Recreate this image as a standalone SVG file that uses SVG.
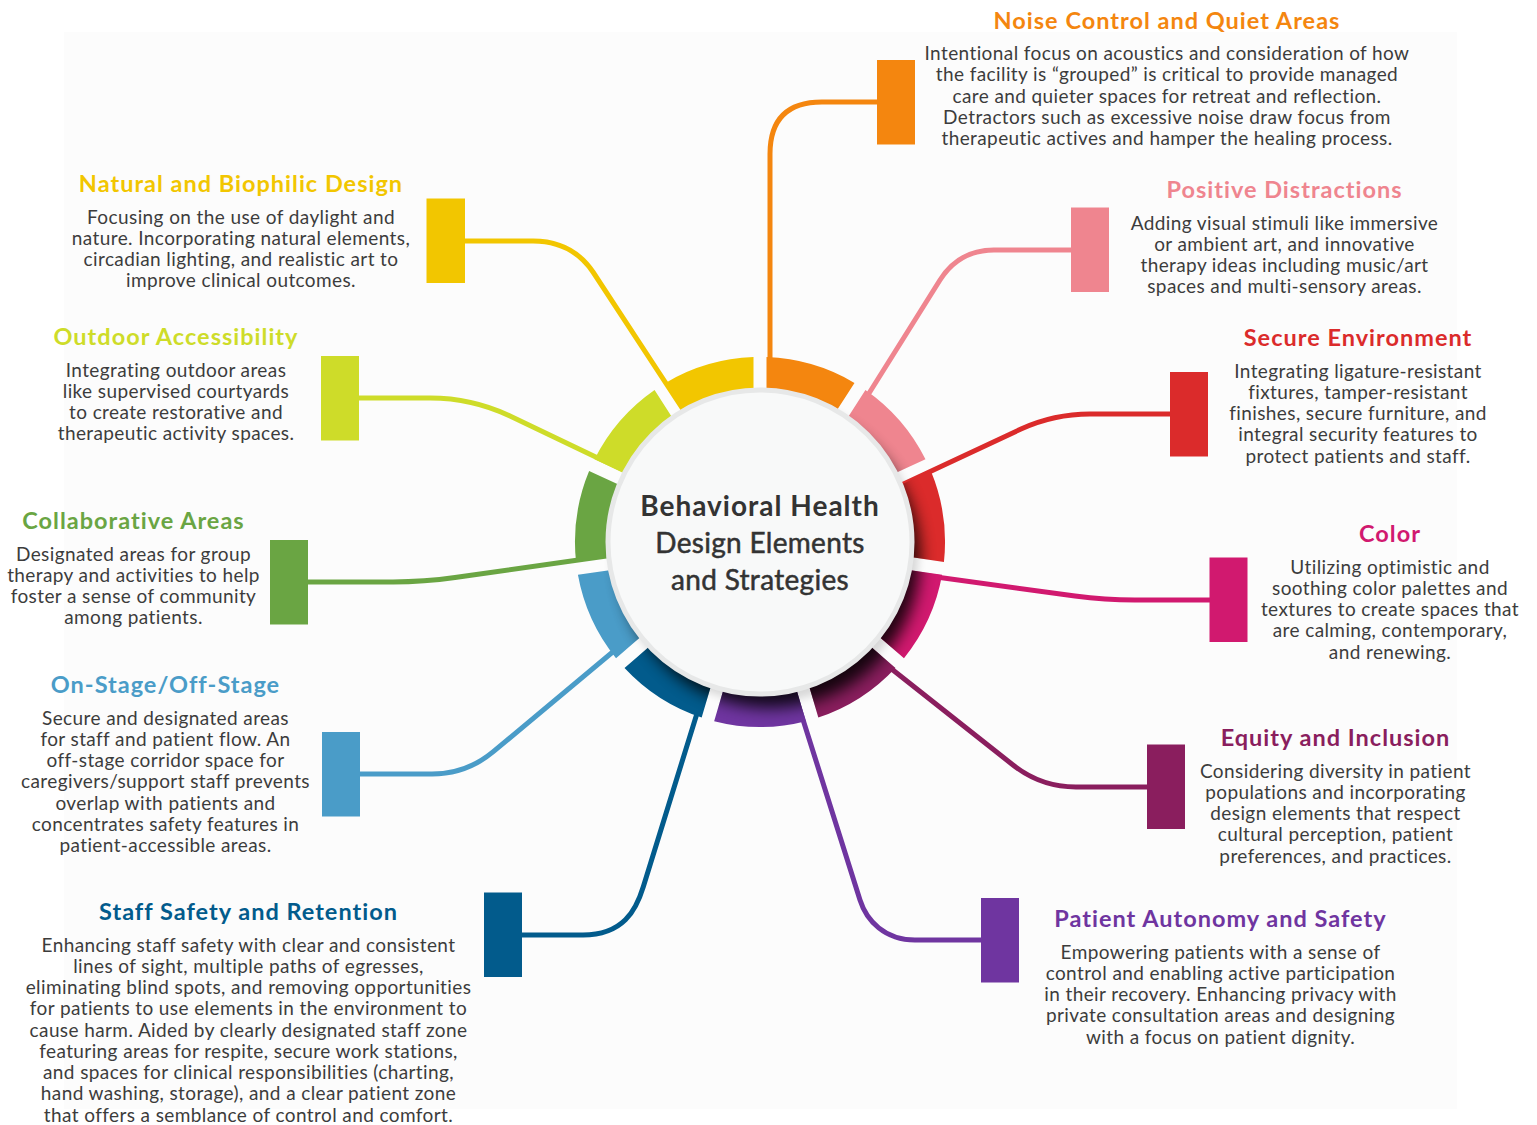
<svg xmlns="http://www.w3.org/2000/svg" xmlns:xlink="http://www.w3.org/1999/xlink" width="1537" height="1125" viewBox="0 0 1537 1125">
<defs>
<style>
.t{font-family:Lato,'Liberation Sans',sans-serif;font-weight:700;font-size:23.5px;letter-spacing:1px;text-anchor:middle}
.b{font-family:Lato,'Liberation Sans',sans-serif;font-size:19px;letter-spacing:0.4px;fill:#3c3c3c;text-anchor:middle}
.c{fill:none;stroke-width:5}
.cen{font-family:Lato,'Liberation Sans',sans-serif;font-size:28px;fill:#333333;text-anchor:middle}
</style>
<path id="seg" d="M766.50,357.11 A185,185 0 0 1 854.49,382.95 L834.47,414.10 A148,148 0 0 0 766.50,394.14 Z"/>
<clipPath id="ringClip">
<use href="#seg" xlink:href="#seg" transform="rotate(0 760 542)"/>
<use href="#seg" xlink:href="#seg" transform="rotate(32.7273 760 542)"/>
<use href="#seg" xlink:href="#seg" transform="rotate(65.4545 760 542)"/>
<use href="#seg" xlink:href="#seg" transform="rotate(98.1818 760 542)"/>
<use href="#seg" xlink:href="#seg" transform="rotate(130.9091 760 542)"/>
<use href="#seg" xlink:href="#seg" transform="rotate(163.6364 760 542)"/>
<use href="#seg" xlink:href="#seg" transform="rotate(196.3636 760 542)"/>
<use href="#seg" xlink:href="#seg" transform="rotate(229.0909 760 542)"/>
<use href="#seg" xlink:href="#seg" transform="rotate(261.8182 760 542)"/>
<use href="#seg" xlink:href="#seg" transform="rotate(294.5455 760 542)"/>
<use href="#seg" xlink:href="#seg" transform="rotate(327.2727 760 542)"/>
</clipPath>
<filter id="blur" x="-30%" y="-30%" width="160%" height="160%"><feGaussianBlur stdDeviation="8"/></filter>
<filter id="blur2" x="-30%" y="-30%" width="160%" height="160%"><feGaussianBlur stdDeviation="4"/></filter>
</defs>

<rect x="0" y="0" width="1537" height="1125" fill="#ffffff"/>
<rect x="64" y="32" width="1393" height="1077" fill="#fcfcfc"/>

<circle cx="765" cy="549" r="154" fill="#000" opacity="0.14" filter="url(#blur2)"/>

<g id="connectors">
<path class="c" stroke="#f4860f" d="M877,102 H822 Q770,102 770,154 V400"/>
<path class="c" stroke="#ef858f" d="M1071,250 H994 Q959,250 940,280 L846,430"/>
<path class="c" stroke="#db2b2b" d="M1170,414 H1090 Q1054,414 1021,429 L880,495"/>
<path class="c" stroke="#d1196f" d="M1210,600 H1135 Q1105,600 1075,596 L900,572"/>
<path class="c" stroke="#8a1e5e" d="M1147,787 H1076 Q1041,787 1013,765 L860,644"/>
<path class="c" stroke="#6f35a0" d="M981,940 H915 C885,940 866.6,921 860,900 L793,688"/>
<path class="c" stroke="#025b8c" d="M522,935 H583 C623,935 636,910.6 643.3,886.7 L712,665"/>
<path class="c" stroke="#4a9cc8" d="M360,774 H432 Q466.5,774 493.3,751.7 L645,625"/>
<path class="c" stroke="#6aa543" d="M308,582 H393 Q424,582 455,577.6 L610,555.5"/>
<path class="c" stroke="#cedc29" d="M359,398 H430 Q472,398 510,416 L625,471"/>
<path class="c" stroke="#f2c600" d="M465,241 H533 Q572,241 593,272 L690,420"/>
</g>

<g id="node-noise">
<use href="#seg" xlink:href="#seg" transform="rotate(0 760 542)" fill="#f4860f"/>
<rect x="877" y="60" width="38" height="84.5" fill="#f4860f"/>
<text class="t" x="1167" y="28.5" fill="#f4860f">Noise Control and Quiet Areas</text>
<text class="b" x="1167" y="60"><tspan x="1167">Intentional focus on acoustics and consideration of how</tspan><tspan x="1167" dy="21.25">the facility is “grouped” is critical to provide managed</tspan><tspan x="1167" dy="21.25">care and quieter spaces for retreat and reflection.</tspan><tspan x="1167" dy="21.25">Detractors such as excessive noise draw focus from</tspan><tspan x="1167" dy="21.25">therapeutic actives and hamper the healing process.</tspan></text>
</g>

<g id="node-positive">
<use href="#seg" xlink:href="#seg" transform="rotate(32.7273 760 542)" fill="#ef858f"/>
<rect x="1071" y="207.5" width="38" height="84.5" fill="#ef858f"/>
<text class="t" x="1284.5" y="198" fill="#ef858f">Positive Distractions</text>
<text class="b" x="1284.5" y="229.5"><tspan x="1284.5">Adding visual stimuli like immersive</tspan><tspan x="1284.5" dy="21.25">or ambient art, and innovative</tspan><tspan x="1284.5" dy="21.25">therapy ideas including music/art</tspan><tspan x="1284.5" dy="21.25">spaces and multi-sensory areas.</tspan></text>
</g>

<g id="node-secure">
<use href="#seg" xlink:href="#seg" transform="rotate(65.4545 760 542)" fill="#db2b2b"/>
<rect x="1170" y="372" width="38" height="84.5" fill="#db2b2b"/>
<text class="t" x="1358" y="346" fill="#db2b2b">Secure Environment</text>
<text class="b" x="1358" y="377.5"><tspan x="1358">Integrating ligature-resistant</tspan><tspan x="1358" dy="21.25">fixtures, tamper-resistant</tspan><tspan x="1358" dy="21.25">finishes, secure furniture, and</tspan><tspan x="1358" dy="21.25">integral security features to</tspan><tspan x="1358" dy="21.25">protect patients and staff.</tspan></text>
</g>

<g id="node-color">
<use href="#seg" xlink:href="#seg" transform="rotate(98.1818 760 542)" fill="#d1196f"/>
<rect x="1209.5" y="557.5" width="38" height="84.5" fill="#d1196f"/>
<text class="t" x="1390" y="542" fill="#d1196f">Color</text>
<text class="b" x="1390" y="573.5"><tspan x="1390">Utilizing optimistic and</tspan><tspan x="1390" dy="21.25">soothing color palettes and</tspan><tspan x="1390" dy="21.25">textures to create spaces that</tspan><tspan x="1390" dy="21.25">are calming, contemporary,</tspan><tspan x="1390" dy="21.25">and renewing.</tspan></text>
</g>

<g id="node-equity">
<use href="#seg" xlink:href="#seg" transform="rotate(130.9091 760 542)" fill="#8a1e5e"/>
<rect x="1147" y="744.5" width="38" height="84.5" fill="#8a1e5e"/>
<text class="t" x="1335.5" y="746" fill="#8a1e5e">Equity and Inclusion</text>
<text class="b" x="1335.5" y="777.5"><tspan x="1335.5">Considering diversity in patient</tspan><tspan x="1335.5" dy="21.25">populations and incorporating</tspan><tspan x="1335.5" dy="21.25">design elements that respect</tspan><tspan x="1335.5" dy="21.25">cultural perception, patient</tspan><tspan x="1335.5" dy="21.25">preferences, and practices.</tspan></text>
</g>

<g id="node-autonomy">
<use href="#seg" xlink:href="#seg" transform="rotate(163.6364 760 542)" fill="#6f35a0"/>
<rect x="981" y="898" width="38" height="84.5" fill="#6f35a0"/>
<text class="t" x="1220.5" y="927" fill="#6f35a0">Patient Autonomy and Safety</text>
<text class="b" x="1220.5" y="958.5"><tspan x="1220.5">Empowering patients with a sense of</tspan><tspan x="1220.5" dy="21.25">control and enabling active participation</tspan><tspan x="1220.5" dy="21.25">in their recovery. Enhancing privacy with</tspan><tspan x="1220.5" dy="21.25">private consultation areas and designing</tspan><tspan x="1220.5" dy="21.25">with a focus on patient dignity.</tspan></text>
</g>

<g id="node-staff">
<use href="#seg" xlink:href="#seg" transform="rotate(196.3636 760 542)" fill="#025b8c"/>
<rect x="484" y="892.5" width="38" height="84.5" fill="#025b8c"/>
<text class="t" x="248.5" y="920" fill="#025b8c">Staff Safety and Retention</text>
<text class="b" x="248.5" y="951.5"><tspan x="248.5">Enhancing staff safety with clear and consistent</tspan><tspan x="248.5" dy="21.25">lines of sight, multiple paths of egresses,</tspan><tspan x="248.5" dy="21.25">eliminating blind spots, and removing opportunities</tspan><tspan x="248.5" dy="21.25">for patients to use elements in the environment to</tspan><tspan x="248.5" dy="21.25">cause harm. Aided by clearly designated staff zone</tspan><tspan x="248.5" dy="21.25">featuring areas for respite, secure work stations,</tspan><tspan x="248.5" dy="21.25">and spaces for clinical responsibilities (charting,</tspan><tspan x="248.5" dy="21.25">hand washing, storage), and a clear patient zone</tspan><tspan x="248.5" dy="21.25">that offers a semblance of control and comfort.</tspan></text>
</g>

<g id="node-onstage">
<use href="#seg" xlink:href="#seg" transform="rotate(229.0909 760 542)" fill="#4a9cc8"/>
<rect x="322" y="732" width="38" height="84.5" fill="#4a9cc8"/>
<text class="t" x="165.5" y="693" fill="#4a9cc8">On-Stage/Off-Stage</text>
<text class="b" x="165.5" y="724.5"><tspan x="165.5">Secure and designated areas</tspan><tspan x="165.5" dy="21.25">for staff and patient flow. An</tspan><tspan x="165.5" dy="21.25">off-stage corridor space for</tspan><tspan x="165.5" dy="21.25">caregivers/support staff prevents</tspan><tspan x="165.5" dy="21.25">overlap with patients and</tspan><tspan x="165.5" dy="21.25">concentrates safety features in</tspan><tspan x="165.5" dy="21.25">patient-accessible areas.</tspan></text>
</g>

<g id="node-collaborative">
<use href="#seg" xlink:href="#seg" transform="rotate(261.8182 760 542)" fill="#6aa543"/>
<rect x="270" y="540" width="38" height="84.5" fill="#6aa543"/>
<text class="t" x="133.5" y="529" fill="#6aa543">Collaborative Areas</text>
<text class="b" x="133.5" y="560.5"><tspan x="133.5">Designated areas for group</tspan><tspan x="133.5" dy="21.25">therapy and activities to help</tspan><tspan x="133.5" dy="21.25">foster a sense of community</tspan><tspan x="133.5" dy="21.25">among patients.</tspan></text>
</g>

<g id="node-outdoor">
<use href="#seg" xlink:href="#seg" transform="rotate(294.5455 760 542)" fill="#cedc29"/>
<rect x="321" y="356" width="38" height="84.5" fill="#cedc29"/>
<text class="t" x="176" y="345" fill="#cedc29">Outdoor Accessibility</text>
<text class="b" x="176" y="376.5"><tspan x="176">Integrating outdoor areas</tspan><tspan x="176" dy="21.25">like supervised courtyards</tspan><tspan x="176" dy="21.25">to create restorative and</tspan><tspan x="176" dy="21.25">therapeutic activity spaces.</tspan></text>
</g>

<g id="node-natural">
<use href="#seg" xlink:href="#seg" transform="rotate(327.2727 760 542)" fill="#f2c600"/>
<rect x="426.5" y="198.5" width="38.5" height="84.5" fill="#f2c600"/>
<text class="t" x="241" y="191.7" fill="#f2c600">Natural and Biophilic Design</text>
<text class="b" x="241" y="223.5"><tspan x="241">Focusing on the use of daylight and</tspan><tspan x="241" dy="21.25">nature. Incorporating natural elements,</tspan><tspan x="241" dy="21.25">circadian lighting, and realistic art to</tspan><tspan x="241" dy="21.25">improve clinical outcomes.</tspan></text>
</g>

<g clip-path="url(#ringClip)">
<circle cx="770" cy="558" r="150" fill="#000" opacity="0.85" filter="url(#blur)"/>
</g>

<g id="node-center">
<circle cx="760" cy="542" r="152" fill="#f8f9f9" stroke="#e7e8e8" stroke-width="5"/>
<text class="cen" x="760" y="516" font-weight="700" font-size="29" letter-spacing="1">Behavioral Health</text>
<text class="cen" x="760" y="553" stroke="#333333" stroke-width="0.5" letter-spacing="0.3">Design Elements</text>
<text class="cen" x="760" y="590" stroke="#333333" stroke-width="0.5" letter-spacing="0.3">and Strategies</text>
</g>
</svg>
